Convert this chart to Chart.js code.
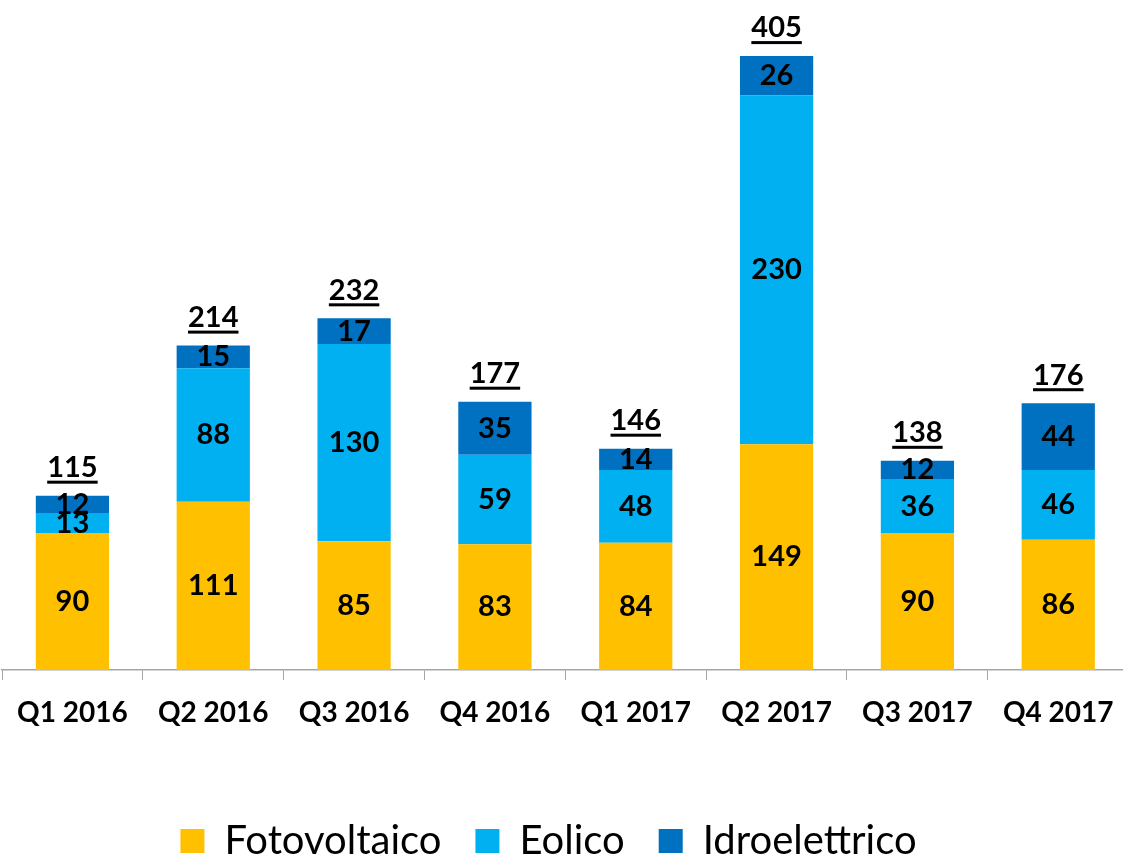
<!DOCTYPE html>
<html>
<head>
<meta charset="utf-8">
<script src="https://cdn.jsdelivr.net/npm/chart.js@4.4.0/dist/chart.umd.min.js"></script>
<style>
  html, body { margin: 0; padding: 0; background: #fff; }
  #wrap { width: 1123px; height: 857px; position: relative; }
</style>
</head>
<body>
<div id="wrap"><canvas id="chart"></canvas></div>
<script>
// dati
const quarters = ['Q1 2016', 'Q2 2016', 'Q3 2016', 'Q4 2016', 'Q1 2017', 'Q2 2017', 'Q3 2017', 'Q4 2017'];
const fotovoltaico = [90, 111, 85, 83, 84, 149, 90, 86];
const eolico = [13, 88, 130, 59, 48, 230, 36, 46];
const idroelettrico = [12, 15, 17, 35, 14, 26, 12, 44];
const totals = [115, 214, 232, 177, 146, 405, 138, 176];

const FONT = 'Lato, "Open Sans", sans-serif';

// etichette dentro i segmenti + totale sottolineato sopra la colonna
const labelsPlugin = {
    id: 'stackLabels',
    afterDatasetsDraw(chart) {
        const ctx = chart.ctx;
        ctx.save();
        ctx.fillStyle = '#000';
        ctx.textAlign = 'center';
        ctx.textBaseline = 'middle';
        ctx.font = 'bold 29px ' + FONT;
        chart.data.datasets.forEach((ds, di) => {
            const meta = chart.getDatasetMeta(di);
            meta.data.forEach((bar, i) => {
                const y = (bar.y + bar.base) / 2;
                ctx.fillText(String(ds.data[i]), bar.x, y);
            });
        });
        const top = chart.getDatasetMeta(chart.data.datasets.length - 1);
        top.data.forEach((bar, i) => {
            const txt = String(totals[i]);
            const y = bar.y - 28;
            ctx.fillText(txt, bar.x, y);
            const w = ctx.measureText(txt).width;
            ctx.fillRect(bar.x - w / 2, y + 13, w, 3);
        });
        ctx.restore();
    }
};

// altezza fissa per la legenda, legenda un po' a sinistra,
// asse x che prosegue oltre il bordo destro come nell'originale
const layoutTweak = {
    id: 'layoutTweak',
    beforeInit(chart) {
        const fit = chart.legend.fit;
        chart.legend.fit = function () {
            fit.call(this);
            this.height = 70;
        };
    },
    afterLayout(chart) {
        chart.legend.right -= 28;
        const x = chart.scales.x;
        x.right += 7;
        x.width += 7;
        x.configure();
        chart.chartArea.right += 7;
    }
};

const ctx = document.getElementById('chart').getContext('2d');
new Chart(ctx, {
    type: 'bar',
    data: {
        labels: quarters,
        datasets: [{
            label: 'Fotovoltaico',
            data: fotovoltaico,
            backgroundColor: '#FFC000'
        }, {
            label: 'Eolico',
            data: eolico,
            backgroundColor: '#00B0F0'
        }, {
            label: 'Idroelettrico',
            data: idroelettrico,
            backgroundColor: '#0070C0'
        }]
    },
    options: {
        responsive: true,
        maintainAspectRatio: false,
        animation: false,
        datasets: { bar: { categoryPercentage: 1, barPercentage: 0.52 } },
        layout: { padding: { top: 0, left: 2, right: 0, bottom: 0 } },
        plugins: {
            tooltip: { enabled: false },
            legend: {
                position: 'bottom',
                labels: {
                    boxWidth: 24,
                    boxHeight: 24,
                    padding: 34,
                    color: '#000',
                    font: { family: FONT, size: 40 }
                }
            }
        },
        scales: {
            x: {
                stacked: true,
                grid: {
                    display: true,
                    offset: true,
                    drawOnChartArea: false,
                    tickLength: 10,
                    color: '#A6A6A6'
                },
                border: { color: '#A6A6A6', width: 1.5 },
                ticks: {
                    color: '#000',
                    padding: 16,
                    font: { family: FONT, size: 28, weight: 'bold' }
                },
                afterFit(scale) { scale.height = 117; }
            },
            y: {
                stacked: true,
                display: false,
                min: 0,
                max: 442
            }
        }
    },
    plugins: [labelsPlugin, layoutTweak]
});
</script>
</body>
</html>
